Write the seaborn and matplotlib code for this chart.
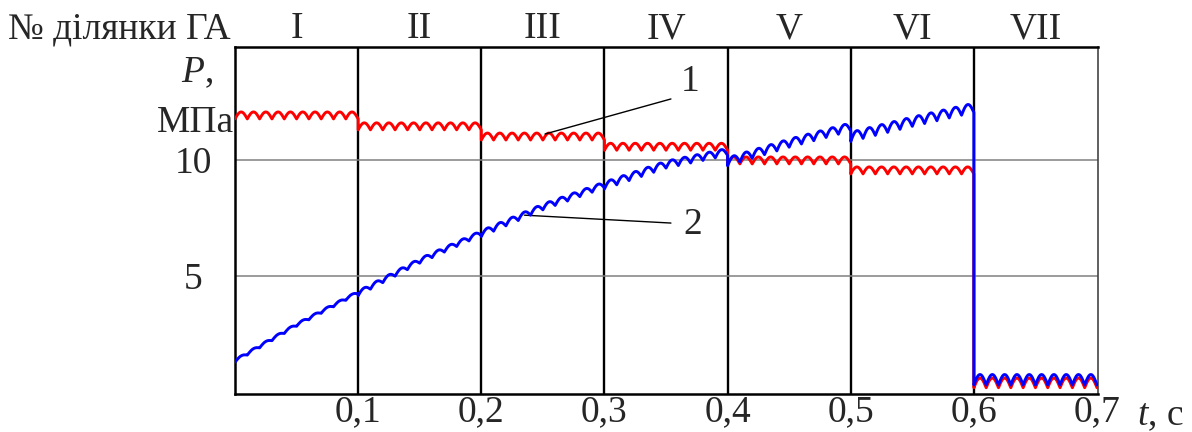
import numpy as np
import pandas as pd
import matplotlib
matplotlib.use("Agg")
import matplotlib.pyplot as plt
import seaborn as sns

# ---- data ----
seg_names = ["I", "II", "III", "IV", "V", "VI", "VII"]
seg_edges = [0.0, 0.1, 0.2, 0.3, 0.4, 0.5, 0.6, 0.7]
x_ticks = [0.1, 0.2, 0.3, 0.4, 0.5, 0.6, 0.7]
x_tick_labels = ["0,1", "0,2", "0,3", "0,4", "0,5", "0,6", "0,7"]
y_ticks = [5, 10]
y_tick_labels = ["5", "10"]

# curve 1 (red): level (ripple top) in each segment, MPa
red_level = [12.07, 11.6, 11.16, 10.72, 10.13, 9.7, 0.6]
red_ripple = [0.3, 0.3, 0.3, 0.3, 0.3, 0.3, 0.42]

# curve 2 (blue): ripple top at start / middle / end of each segment, MPa
blue_start = [1.4, 4.35, 6.95, 9.05, 10.1, 11.2, 0.75]
blue_mid = [2.95, 5.75, 8.1, 9.95, 10.9, 11.85, 0.75]
blue_end = [4.35, 6.95, 9.05, 10.5, 11.6, 12.45, 0.75]
blue_ripple = [0.12, 0.2, 0.25, 0.3, 0.35, 0.4, 0.45]

# pressure pulsation shape (fraction of ripple depth), one period
ripple_shape = [1.0, 0.74, 0.5, 0.29, 0.13, 0.03, 0.0, 0.03, 0.13, 0.29, 0.5, 0.74]
periods_per_segment = 10

# ---- build long table ----
rows = []
n_shape = len(ripple_shape)
for i in range(len(seg_names)):
    t0, t1 = seg_edges[i], seg_edges[i + 1]
    n = periods_per_segment * n_shape
    ts = np.linspace(t0, t1, n + 1)
    shape = np.array([ripple_shape[k % n_shape] for k in range(n + 1)])
    tm = (t0 + t1) / 2
    base_b = np.interp(ts, [t0, tm, t1], [blue_start[i], blue_mid[i], blue_end[i]])
    red_vals = red_level[i] - red_ripple[i] * shape
    blue_vals = base_b - blue_ripple[i] * shape
    for t, r, b in zip(ts, red_vals, blue_vals):
        rows.append(("1", t, r, i))
        rows.append(("2", t, b, i))
df = pd.DataFrame(rows, columns=["curve", "t", "P", "seg"])

# ---- style ----
sns.set_theme(style="white")
plt.rcParams["font.family"] = ["Liberation Serif", "DejaVu Serif"]
plt.rcParams["mathtext.fontset"] = "custom"
plt.rcParams["mathtext.rm"] = "Liberation Serif"
plt.rcParams["mathtext.it"] = "Liberation Serif:italic"
FS = 27

W, H = 1192, 432
fig = plt.figure(figsize=(W / 100, H / 100), dpi=100)
ax = fig.add_axes([235 / W, 1 - 394 / H, (1098 - 235) / W, (394 - 47) / H])

# grid
for xv in seg_edges[1:-1]:
    ax.axvline(xv, color="black", lw=1.7, zorder=1)
for yv in y_ticks:
    ax.axhline(yv, color="#808080", lw=1.1, zorder=1)

# whole curves, including the vertical steps between segments
for curve, col, z in [("1", "#ff0000", 3), ("2", "#0000ff", 4)]:
    sub = df[df.curve == curve]
    sns.lineplot(data=sub, x="t", y="P", estimator=None, sort=False, color=col,
                 lw=2.1, ax=ax, legend=False, zorder=z)

ax.set_xlim(0, 0.7008)
ax.set_ylim(-0.09, 14.87)
ax.set_xticks(x_ticks)
ax.set_xticklabels(x_tick_labels, fontsize=FS)
ax.set_yticks(y_ticks)
ax.set_yticklabels(y_tick_labels, fontsize=FS, ha="center")
ax.tick_params(axis="x", length=0, pad=0.5)
ax.tick_params(axis="y", length=0, pad=30)
ax.set_xlabel("")
ax.set_ylabel("")

for s in ["left", "bottom", "top"]:
    ax.spines[s].set_color("black")
    ax.spines[s].set_linewidth(1.8)
ax.spines["right"].set_color("#444444")
ax.spines["right"].set_linewidth(1.2)

# segment numbers on top
for i, name in enumerate(seg_names):
    tc = (seg_edges[i] + seg_edges[i + 1]) / 2
    ax.text(tc, (394 - 38) / 347, name, transform=ax.get_xaxis_transform(),
            ha="center", va="baseline", fontsize=FS, clip_on=False)

def px(x, y):
    return x / W, 1 - y / H

fig.text(*px(8, 38), "№ ділянки ГА", fontsize=FS, ha="left", va="baseline")
fig.text(*px(213, 82), "$P$,", fontsize=FS, ha="right", va="baseline")
fig.text(*px(234, 132), "МПа", fontsize=FS, ha="right", va="baseline")
fig.text(*px(1137, 425), "$t$, с", fontsize=FS, ha="left", va="baseline")

# leader lines to curve numbers
ax.annotate("", xy=(0.2518, 11.12), xytext=(0.354, 12.63),
            arrowprops=dict(arrowstyle="-", lw=1.0, color="black", shrinkA=0, shrinkB=0))
ax.annotate("", xy=(0.235, 7.62), xytext=(0.354, 7.28),
            arrowprops=dict(arrowstyle="-", lw=1.0, color="black", shrinkA=0, shrinkB=0))
ax.text(0.3696, 13.36, "1", fontsize=FS, ha="center", va="center")
ax.text(0.372, 7.2, "2", fontsize=FS, ha="center", va="center")

fig.savefig("out.png", dpi=100)
